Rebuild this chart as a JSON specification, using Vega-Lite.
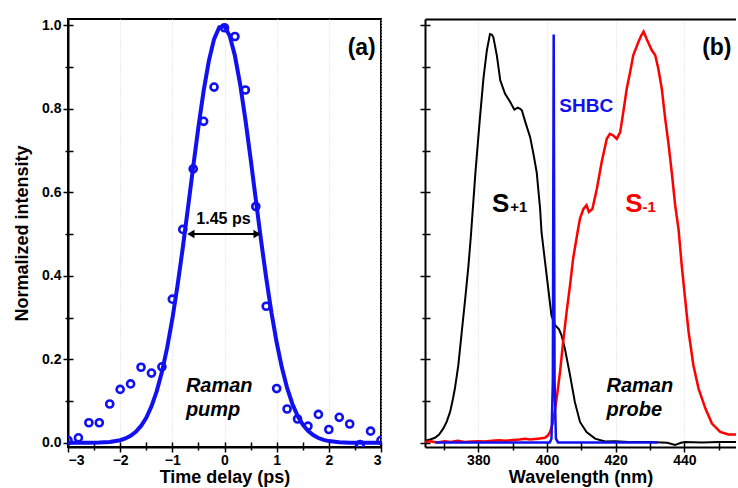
{
  "$schema": "https://vega.github.io/schema/vega-lite/v6.json",
  "padding": {"left": 12, "top": 17, "right": 0, "bottom": 0},
  "background": "white",
  "spacing": 44,
  "bounds": "flush",
  "config": {
    "font": "Liberation Sans",
    "axis": {"labelFont": "Liberation Sans", "labelFontWeight": "bold", "labelFontSize": 14, "labelColor": "black",
      "titleFont": "Liberation Sans", "titleFontWeight": "bold", "titleFontSize": 18, "titleColor": "black",
      "domainColor": "black", "domainWidth": 2, "tickColor": "black", "tickWidth": 1.5, "grid": false},
    "view": {"stroke": "black", "strokeWidth": 2}
  },
  "datasets": {
    "fit": [
      {"t": -3.0, "v": 0.0}, {"t": -2.8, "v": 0.0}, {"t": -2.6, "v": 0.0002}, {"t": -2.4, "v": 0.0007}, {"t": -2.2, "v": 0.0021},
      {"t": -2.0, "v": 0.0063}, {"t": -1.9, "v": 0.0104}, {"t": -1.8, "v": 0.0168}, {"t": -1.7, "v": 0.0264}, {"t": -1.6, "v": 0.0404},
      {"t": -1.5, "v": 0.0601}, {"t": -1.4, "v": 0.0873}, {"t": -1.3, "v": 0.1232}, {"t": -1.2, "v": 0.1696}, {"t": -1.1, "v": 0.2272},
      {"t": -1.0, "v": 0.2966}, {"t": -0.9, "v": 0.3771}, {"t": -0.8, "v": 0.4669}, {"t": -0.7, "v": 0.563}, {"t": -0.6, "v": 0.6613},
      {"t": -0.5, "v": 0.7565}, {"t": -0.4, "v": 0.8429}, {"t": -0.3, "v": 0.9147}, {"t": -0.2, "v": 0.9668}, {"t": -0.1, "v": 0.9953},
      {"t": 0.0, "v": 0.9979}, {"t": 0.1, "v": 0.9745}, {"t": 0.2, "v": 0.9269}, {"t": 0.3, "v": 0.8586}, {"t": 0.4, "v": 0.7747},
      {"t": 0.5, "v": 0.6808}, {"t": 0.6, "v": 0.5827}, {"t": 0.7, "v": 0.4857}, {"t": 0.8, "v": 0.3944}, {"t": 0.9, "v": 0.3119},
      {"t": 1.0, "v": 0.2402}, {"t": 1.1, "v": 0.1802}, {"t": 1.2, "v": 0.1316}, {"t": 1.3, "v": 0.0937}, {"t": 1.4, "v": 0.0649},
      {"t": 1.5, "v": 0.0438}, {"t": 1.6, "v": 0.0288}, {"t": 1.7, "v": 0.0185}, {"t": 1.8, "v": 0.0115}, {"t": 1.9, "v": 0.007},
      {"t": 2.0, "v": 0.0041}, {"t": 2.2, "v": 0.0013}, {"t": 2.4, "v": 0.0004}, {"t": 2.6, "v": 0.0001}, {"t": 2.8, "v": 0.0}, {"t": 3.0, "v": 0.0}
    ],
    "meas": [
      {"t": -3.0, "v": 0.006}, {"t": -2.8, "v": 0.012}, {"t": -2.6, "v": 0.048}, {"t": -2.4, "v": 0.048}, {"t": -2.2, "v": 0.093},
      {"t": -2.0, "v": 0.128}, {"t": -1.8, "v": 0.141}, {"t": -1.6, "v": 0.181}, {"t": -1.4, "v": 0.167}, {"t": -1.2, "v": 0.182},
      {"t": -1.0, "v": 0.344}, {"t": -0.8, "v": 0.511}, {"t": -0.6, "v": 0.656}, {"t": -0.4, "v": 0.77}, {"t": -0.2, "v": 0.852},
      {"t": 0.0, "v": 0.994}, {"t": 0.2, "v": 0.973}, {"t": 0.4, "v": 0.845}, {"t": 0.6, "v": 0.566}, {"t": 0.8, "v": 0.327},
      {"t": 1.0, "v": 0.13}, {"t": 1.2, "v": 0.081}, {"t": 1.4, "v": 0.057}, {"t": 1.6, "v": 0.04}, {"t": 1.8, "v": 0.068},
      {"t": 2.0, "v": 0.032}, {"t": 2.2, "v": 0.061}, {"t": 2.4, "v": 0.045}, {"t": 2.6, "v": -0.004}, {"t": 2.8, "v": 0.028}, {"t": 3.0, "v": 0.006}
    ],
    "splus": [
      {"w": 364.5, "v": 0.005}, {"w": 366.0, "v": 0.008}, {"w": 367.4, "v": 0.012}, {"w": 368.6, "v": 0.02}, {"w": 369.8, "v": 0.034},
      {"w": 370.8, "v": 0.05}, {"w": 371.8, "v": 0.074}, {"w": 372.5, "v": 0.1}, {"w": 373.2, "v": 0.13}, {"w": 374.2, "v": 0.186},
      {"w": 375.2, "v": 0.266}, {"w": 376.2, "v": 0.345}, {"w": 377.1, "v": 0.42}, {"w": 377.8, "v": 0.49}, {"w": 378.5, "v": 0.57},
      {"w": 379.2, "v": 0.65}, {"w": 380.4, "v": 0.77}, {"w": 381.5, "v": 0.872}, {"w": 382.5, "v": 0.94}, {"w": 383.4, "v": 0.979},
      {"w": 384.0, "v": 0.977}, {"w": 384.4, "v": 0.971}, {"w": 385.4, "v": 0.928}, {"w": 386.4, "v": 0.868}, {"w": 387.8, "v": 0.836},
      {"w": 389.3, "v": 0.816}, {"w": 390.5, "v": 0.798}, {"w": 391.5, "v": 0.803}, {"w": 392.2, "v": 0.8}, {"w": 392.7, "v": 0.796},
      {"w": 393.7, "v": 0.768}, {"w": 395.1, "v": 0.732}, {"w": 396.1, "v": 0.69}, {"w": 397.0, "v": 0.648}, {"w": 398.0, "v": 0.56},
      {"w": 398.4, "v": 0.505}, {"w": 399.9, "v": 0.401}, {"w": 401.3, "v": 0.305}, {"w": 402.3, "v": 0.282}, {"w": 403.5, "v": 0.272},
      {"w": 404.2, "v": 0.258}, {"w": 405.2, "v": 0.226}, {"w": 406.7, "v": 0.162}, {"w": 408.1, "v": 0.098}, {"w": 409.6, "v": 0.05},
      {"w": 411.5, "v": 0.026}, {"w": 414.0, "v": 0.01}, {"w": 416.9, "v": 0.003}, {"w": 419.8, "v": 0.004}, {"w": 423.7, "v": 0.002},
      {"w": 430.0, "v": 0.002}, {"w": 435.0, "v": 0.0}, {"w": 437.3, "v": -0.005}, {"w": 439.0, "v": 0.0}, {"w": 440.2, "v": 0.002},
      {"w": 445.0, "v": 0.001}, {"w": 450.0, "v": 0.002}, {"w": 455.0, "v": 0.002}
    ],
    "sminus": [
      {"w": 364.5, "v": 0.002}, {"w": 366.0, "v": 0.004}, {"w": 368.0, "v": 0.001}, {"w": 370.3, "v": 0.004}, {"w": 372.0, "v": 0.002},
      {"w": 374.0, "v": 0.005}, {"w": 376.0, "v": 0.002}, {"w": 378.0, "v": 0.003}, {"w": 380.0, "v": 0.004}, {"w": 382.0, "v": 0.003},
      {"w": 384.0, "v": 0.005}, {"w": 386.0, "v": 0.006}, {"w": 388.0, "v": 0.005}, {"w": 390.0, "v": 0.007}, {"w": 392.0, "v": 0.008},
      {"w": 393.7, "v": 0.01}, {"w": 395.0, "v": 0.008}, {"w": 397.4, "v": 0.01}, {"w": 399.4, "v": 0.012}, {"w": 400.3, "v": 0.018},
      {"w": 400.9, "v": 0.026}, {"w": 401.8, "v": 0.05}, {"w": 402.8, "v": 0.106}, {"w": 403.8, "v": 0.17}, {"w": 404.7, "v": 0.242},
      {"w": 405.7, "v": 0.313}, {"w": 406.7, "v": 0.377}, {"w": 407.6, "v": 0.441}, {"w": 408.9, "v": 0.505}, {"w": 409.6, "v": 0.537},
      {"w": 410.6, "v": 0.56}, {"w": 411.5, "v": 0.569}, {"w": 412.2, "v": 0.553}, {"w": 413.2, "v": 0.56}, {"w": 414.5, "v": 0.608},
      {"w": 415.9, "v": 0.672}, {"w": 417.4, "v": 0.728}, {"w": 418.3, "v": 0.74}, {"w": 419.3, "v": 0.736}, {"w": 420.3, "v": 0.728},
      {"w": 421.3, "v": 0.744}, {"w": 422.2, "v": 0.792}, {"w": 423.2, "v": 0.848}, {"w": 424.2, "v": 0.888}, {"w": 425.1, "v": 0.928},
      {"w": 426.6, "v": 0.96}, {"w": 427.4, "v": 0.975}, {"w": 428.1, "v": 0.985}, {"w": 429.0, "v": 0.967}, {"w": 430.5, "v": 0.94},
      {"w": 431.5, "v": 0.928}, {"w": 432.4, "v": 0.896}, {"w": 433.4, "v": 0.848}, {"w": 434.4, "v": 0.776}, {"w": 435.3, "v": 0.72},
      {"w": 436.3, "v": 0.648}, {"w": 437.3, "v": 0.569}, {"w": 438.3, "v": 0.51}, {"w": 439.2, "v": 0.425}, {"w": 440.2, "v": 0.345},
      {"w": 441.2, "v": 0.266}, {"w": 442.6, "v": 0.186}, {"w": 444.1, "v": 0.13}, {"w": 446.1, "v": 0.082}, {"w": 448.0, "v": 0.046},
      {"w": 450.4, "v": 0.026}, {"w": 452.8, "v": 0.02}, {"w": 455.0, "v": 0.02}
    ],
    "shbc": [
      {"w": 367.5, "v": 0.001}, {"w": 400.8, "v": 0.001}, {"w": 401.3, "v": 0.01}, {"w": 401.7, "v": 0.15}, {"w": 401.95, "v": 0.978},
      {"w": 402.2, "v": 0.15}, {"w": 402.6, "v": 0.01}, {"w": 403.2, "v": 0.001}, {"w": 432.2, "v": 0.001}
    ]
  },
  "hconcat": [
    {
      "width": 313,
      "height": 428,
      "resolve": {"axis": {"x": "independent", "y": "independent"}},
      "layer": [
        {
          "data": {"name": "fit"},
          "mark": {"type": "line", "color": "#1010f0", "strokeWidth": 4, "clip": true},
          "encoding": {
            "x": {"field": "t", "type": "quantitative", "scale": {"domain": [-3, 3], "nice": false, "zero": false},
              "axis": {"orient": "bottom", "values": [-3, -2, -1, 0, 1, 2, 3], "tickSize": 5, "labelPadding": 1, "title": "Time delay (ps)", "titlePadding": 1,
                "grid": true, "gridColor": "#d8d8d8", "gridDash": [1, 2], "gridWidth": 1}},
            "y": {"field": "v", "type": "quantitative", "scale": {"domain": [-0.01, 1.015], "nice": false, "zero": false},
              "axis": {"orient": "left", "values": [0, 0.2, 0.4, 0.6, 0.8, 1.0], "format": ".1f", "tickSize": 5, "labelPadding": 2, "title": "Normalized intensity", "titlePadding": 10}}
          }
        },
        {
          "data": {"name": "meas"},
          "mark": {"type": "point", "shape": "circle", "filled": false, "color": "#1010f0", "opacity": 1, "strokeWidth": 2.6, "size": 50, "clip": true},
          "encoding": {
            "x": {"field": "t", "type": "quantitative", "scale": {"domain": [-3, 3], "nice": false, "zero": false},
              "axis": {"orient": "bottom", "values": [-3, -2.5, -2, -1.5, -1, -0.5, 0, 0.5, 1, 1.5, 2, 2.5, 3], "tickSize": -5, "labels": false, "domain": false, "title": null}},
            "y": {"field": "v", "type": "quantitative", "scale": {"domain": [-0.01, 1.015], "nice": false, "zero": false},
              "axis": {"orient": "left", "values": [0, 0.1, 0.2, 0.3, 0.4, 0.5, 0.6, 0.7, 0.8, 0.9, 1.0], "tickSize": -5, "labels": false, "domain": false, "title": null}}
          }
        },
        {
          "data": {"values": [{"a": -0.66, "b": 0.64, "v": 0.5}]},
          "mark": {"type": "rule", "color": "black", "strokeWidth": 2},
          "encoding": {
            "x": {"field": "a", "type": "quantitative", "scale": {"domain": [-3, 3], "nice": false, "zero": false},
              "axis": {"orient": "bottom", "values": [-2.5, -1.5, -0.5, 0.5, 1.5, 2.5], "tickSize": 3, "labels": false, "domain": false, "title": null}},
            "x2": {"field": "b"},
            "y": {"field": "v", "type": "quantitative", "scale": {"domain": [-0.01, 1.015], "nice": false, "zero": false},
              "axis": {"orient": "left", "values": [0.1, 0.3, 0.5, 0.7, 0.9], "tickSize": 3, "labels": false, "domain": false, "title": null}}
          }
        },
        {
          "data": {"values": [{"t": -0.645, "v": 0.5}]},
          "mark": {"type": "point", "shape": "triangle-left", "filled": true, "color": "black", "size": 70, "opacity": 1},
          "encoding": {
            "x": {"field": "t", "type": "quantitative", "scale": {"domain": [-3, 3], "nice": false, "zero": false}, "axis": null},
            "y": {"field": "v", "type": "quantitative", "scale": {"domain": [-0.01, 1.015], "nice": false, "zero": false}, "axis": null}
          }
        },
        {
          "data": {"values": [{"t": 0.625, "v": 0.5}]},
          "mark": {"type": "point", "shape": "triangle-right", "filled": true, "color": "black", "size": 70, "opacity": 1},
          "encoding": {
            "x": {"field": "t", "type": "quantitative", "scale": {"domain": [-3, 3], "nice": false, "zero": false}, "axis": null},
            "y": {"field": "v", "type": "quantitative", "scale": {"domain": [-0.01, 1.015], "nice": false, "zero": false}, "axis": null}
          }
        },
        {
          "data": {"values": [{"t": 2.9, "v": 0.928, "label": "(a)"}]},
          "mark": {"type": "text", "font": "Liberation Sans", "fontWeight": "bold", "fontSize": 23, "align": "right", "baseline": "alphabetic", "color": "black"},
          "encoding": {
            "x": {"field": "t", "type": "quantitative", "scale": {"domain": [-3, 3], "nice": false, "zero": false}, "axis": null},
            "y": {"field": "v", "type": "quantitative", "scale": {"domain": [-0.01, 1.015], "nice": false, "zero": false}, "axis": null},
            "text": {"field": "label"}
          }
        },
        {
          "data": {"values": [{"t": -0.02, "v": 0.524, "label": "1.45 ps"}]},
          "mark": {"type": "text", "font": "Liberation Sans", "fontWeight": "bold", "fontSize": 16, "align": "center", "baseline": "alphabetic", "color": "black"},
          "encoding": {
            "x": {"field": "t", "type": "quantitative", "scale": {"domain": [-3, 3], "nice": false, "zero": false}, "axis": null},
            "y": {"field": "v", "type": "quantitative", "scale": {"domain": [-0.01, 1.015], "nice": false, "zero": false}, "axis": null},
            "text": {"field": "label"}
          }
        },
        {
          "data": {"values": [{"t": -0.74, "v": 0.122, "label": "Raman\npump"}]},
          "mark": {"type": "text", "font": "Liberation Sans", "fontWeight": "bold", "fontStyle": "italic", "fontSize": 20, "lineBreak": "\n", "lineHeight": 24, "align": "left", "baseline": "alphabetic", "color": "black"},
          "encoding": {
            "x": {"field": "t", "type": "quantitative", "scale": {"domain": [-3, 3], "nice": false, "zero": false}, "axis": null},
            "y": {"field": "v", "type": "quantitative", "scale": {"domain": [-0.01, 1.015], "nice": false, "zero": false}, "axis": null},
            "text": {"field": "label"}
          }
        }
      ]
    },
    {
      "width": 311,
      "height": 428,
      "view": {"stroke": null},
      "resolve": {"axis": {"x": "independent", "y": "independent"}},
      "layer": [
        {
          "data": {"name": "splus"},
          "mark": {"type": "line", "color": "black", "strokeWidth": 2, "clip": true},
          "encoding": {
            "x": {"field": "w", "type": "quantitative", "scale": {"domain": [364.5, 455], "nice": false, "zero": false},
              "axis": {"orient": "bottom", "values": [380, 400, 420, 440], "tickSize": 5, "labelPadding": 1, "title": "Wavelength (nm)", "titlePadding": 1,
                "grid": true, "gridColor": "#d8d8d8", "gridDash": [1, 2], "gridWidth": 1}},
            "y": {"field": "v", "type": "quantitative", "scale": {"domain": [-0.01, 1.015], "nice": false, "zero": false},
              "axis": {"orient": "left", "values": [0, 0.2, 0.4, 0.6, 0.8, 1.0], "tickSize": 5, "labels": false, "title": null}}
          }
        },
        {
          "data": {"name": "sminus"},
          "mark": {"type": "line", "color": "#ff0000", "strokeWidth": 2.5, "clip": true},
          "encoding": {
            "x": {"field": "w", "type": "quantitative", "scale": {"domain": [364.5, 455], "nice": false, "zero": false},
              "axis": {"orient": "bottom", "values": [370, 380, 390, 400, 410, 420, 430, 440, 450], "tickSize": -5, "labels": false, "domain": false, "title": null}},
            "y": {"field": "v", "type": "quantitative", "scale": {"domain": [-0.01, 1.015], "nice": false, "zero": false},
              "axis": {"orient": "left", "values": [0, 0.1, 0.2, 0.3, 0.4, 0.5, 0.6, 0.7, 0.8, 0.9, 1.0], "tickSize": -5, "labels": false, "domain": false, "title": null}}
          }
        },
        {
          "data": {"name": "shbc"},
          "mark": {"type": "line", "color": "#1010f0", "strokeWidth": 2.5, "clip": true},
          "encoding": {
            "x": {"field": "w", "type": "quantitative", "scale": {"domain": [364.5, 455], "nice": false, "zero": false},
              "axis": {"orient": "bottom", "values": [370, 390, 410, 430, 450], "tickSize": 3, "labels": false, "domain": false, "title": null}},
            "y": {"field": "v", "type": "quantitative", "scale": {"domain": [-0.01, 1.015], "nice": false, "zero": false},
              "axis": {"orient": "left", "values": [0.1, 0.3, 0.5, 0.7, 0.9], "tickSize": 3, "labels": false, "domain": false, "title": null}}
          }
        },
        {
          "data": {"values": [{"w": 453.7, "v": 0.928, "label": "(b)"}]},
          "mark": {"type": "text", "font": "Liberation Sans", "fontWeight": "bold", "fontSize": 23, "align": "right", "baseline": "alphabetic", "color": "black"},
          "encoding": {
            "x": {"field": "w", "type": "quantitative", "scale": {"domain": [364.5, 455], "nice": false, "zero": false},
              "axis": {"orient": "top", "ticks": false, "labels": false, "title": null, "domain": true}},
            "y": {"field": "v", "type": "quantitative", "scale": {"domain": [-0.01, 1.015], "nice": false, "zero": false}, "axis": null},
            "text": {"field": "label"}
          }
        },
        {
          "data": {"values": [{"w": 384.0, "v": 0.553, "label": "S"}]},
          "mark": {"type": "text", "font": "Liberation Sans", "fontWeight": "bold", "fontSize": 26, "align": "left", "baseline": "alphabetic", "color": "black"},
          "encoding": {
            "x": {"field": "w", "type": "quantitative", "scale": {"domain": [364.5, 455], "nice": false, "zero": false}, "axis": null},
            "y": {"field": "v", "type": "quantitative", "scale": {"domain": [-0.01, 1.015], "nice": false, "zero": false}, "axis": null},
            "text": {"field": "label"}
          }
        },
        {
          "data": {"values": [{"w": 389.3, "v": 0.553, "label": "+1"}]},
          "mark": {"type": "text", "font": "Liberation Sans", "fontWeight": "bold", "fontSize": 15, "align": "left", "baseline": "alphabetic", "color": "black"},
          "encoding": {
            "x": {"field": "w", "type": "quantitative", "scale": {"domain": [364.5, 455], "nice": false, "zero": false}, "axis": null},
            "y": {"field": "v", "type": "quantitative", "scale": {"domain": [-0.01, 1.015], "nice": false, "zero": false}, "axis": null},
            "text": {"field": "label"}
          }
        },
        {
          "data": {"values": [{"w": 422.8, "v": 0.553, "label": "S"}]},
          "mark": {"type": "text", "font": "Liberation Sans", "fontWeight": "bold", "fontSize": 26, "align": "left", "baseline": "alphabetic", "color": "#ff0000"},
          "encoding": {
            "x": {"field": "w", "type": "quantitative", "scale": {"domain": [364.5, 455], "nice": false, "zero": false}, "axis": null},
            "y": {"field": "v", "type": "quantitative", "scale": {"domain": [-0.01, 1.015], "nice": false, "zero": false}, "axis": null},
            "text": {"field": "label"}
          }
        },
        {
          "data": {"values": [{"w": 427.8, "v": 0.553, "label": "-1"}]},
          "mark": {"type": "text", "font": "Liberation Sans", "fontWeight": "bold", "fontSize": 15, "align": "left", "baseline": "alphabetic", "color": "#ff0000"},
          "encoding": {
            "x": {"field": "w", "type": "quantitative", "scale": {"domain": [364.5, 455], "nice": false, "zero": false}, "axis": null},
            "y": {"field": "v", "type": "quantitative", "scale": {"domain": [-0.01, 1.015], "nice": false, "zero": false}, "axis": null},
            "text": {"field": "label"}
          }
        },
        {
          "data": {"values": [{"w": 403.6, "v": 0.792, "label": "SHBC"}]},
          "mark": {"type": "text", "font": "Liberation Sans", "fontWeight": "bold", "fontSize": 19, "align": "left", "baseline": "alphabetic", "color": "#1010f0"},
          "encoding": {
            "x": {"field": "w", "type": "quantitative", "scale": {"domain": [364.5, 455], "nice": false, "zero": false}, "axis": null},
            "y": {"field": "v", "type": "quantitative", "scale": {"domain": [-0.01, 1.015], "nice": false, "zero": false}, "axis": null},
            "text": {"field": "label"}
          }
        },
        {
          "data": {"values": [{"w": 417.3, "v": 0.122, "label": "Raman\nprobe"}]},
          "mark": {"type": "text", "font": "Liberation Sans", "fontWeight": "bold", "fontStyle": "italic", "fontSize": 20, "lineBreak": "\n", "lineHeight": 24, "align": "left", "baseline": "alphabetic", "color": "black"},
          "encoding": {
            "x": {"field": "w", "type": "quantitative", "scale": {"domain": [364.5, 455], "nice": false, "zero": false}, "axis": null},
            "y": {"field": "v", "type": "quantitative", "scale": {"domain": [-0.01, 1.015], "nice": false, "zero": false}, "axis": null},
            "text": {"field": "label"}
          }
        }
      ]
    }
  ]
}
